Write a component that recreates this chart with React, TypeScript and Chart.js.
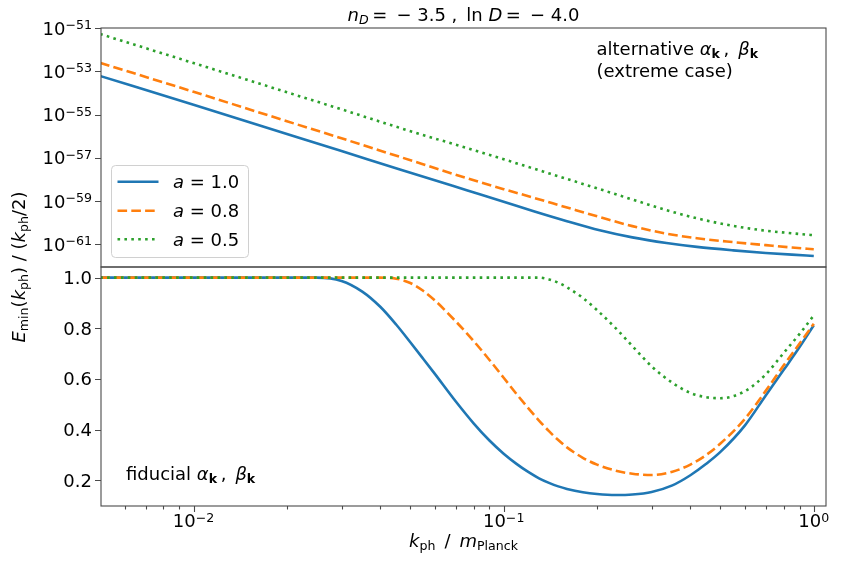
import { useEffect, useRef } from "react";
import { Chart, registerables } from "chart.js";
Chart.register(...registerables);

// top panel: log10 of E_min/(k/2), alternative alpha/beta
const kTop = [0.005, 0.01, 0.02, 0.03, 0.0463, 0.076, 0.1, 0.125, 0.16, 0.204, 0.26, 0.335, 0.42, 0.55, 0.7, 0.85, 1.0];
const topExpA10 = [-53.22, -54.55, -55.9, -56.69, -57.54, -58.5, -59.03, -59.47, -59.93, -60.35, -60.68, -60.94, -61.12, -61.28, -61.4, -61.48, -61.54];
const topExpA08 = [-52.61, -53.95, -55.31, -56.1, -56.96, -57.94, -58.45, -58.85, -59.3, -59.74, -60.16, -60.51, -60.72, -60.9, -61.04, -61.15, -61.23];
const topExpA05 = [-51.28, -52.62, -53.97, -54.76, -55.62, -56.55, -57.07, -57.5, -57.98, -58.45, -58.93, -59.42, -59.8, -60.15, -60.37, -60.49, -60.58];

// bottom panel: fiducial alpha/beta
const kBot = [0.005, 0.01, 0.02, 0.025, 0.03, 0.035, 0.04, 0.045, 0.05, 0.055, 0.06, 0.07, 0.08, 0.09, 0.1, 0.11, 0.12, 0.13, 0.14, 0.15, 0.16, 0.18, 0.2, 0.23, 0.26, 0.3, 0.35, 0.4, 0.45, 0.5, 0.6, 0.7, 0.8, 0.9, 1.0];
const botA10 = [1, 1, 1, 1, 0.987, 0.945, 0.885, 0.815, 0.745, 0.68, 0.62, 0.512, 0.425, 0.357, 0.305, 0.265, 0.233, 0.208, 0.19, 0.176, 0.166, 0.153, 0.146, 0.142, 0.144, 0.154, 0.18, 0.22, 0.265, 0.312, 0.417, 0.535, 0.636, 0.726, 0.812];
const botA08 = [1, 1, 1, 1, 1, 1, 1, 0.996, 0.979, 0.948, 0.91, 0.828, 0.75, 0.675, 0.605, 0.541, 0.485, 0.436, 0.394, 0.359, 0.33, 0.289, 0.262, 0.238, 0.226, 0.221, 0.234, 0.262, 0.3, 0.345, 0.443, 0.553, 0.654, 0.74, 0.818];
const botA05 = [1, 1, 1, 1, 1, 1, 1, 1, 1, 1, 1, 1, 1, 1, 1, 1, 1, 1, 0.993, 0.98, 0.962, 0.92, 0.872, 0.8, 0.73, 0.65, 0.585, 0.545, 0.528, 0.524, 0.552, 0.618, 0.703, 0.778, 0.851];

const aLabels = ["1.0", "0.8", "0.5"];
const xTickExps = [-2, -1, 0];
const yTopTickExps = [-51, -53, -55, -57, -59, -61];
const yBotTicks = ["0.2", "0.4", "0.6", "0.8", "1.0"];

const colors = ["#1f77b4", "#ff7f0e", "#2ca02c"];
const LW = 2.6;
const dashes = [[], [9.6, 4.2], [2.6, 4.3]];

const FONT = '"DejaVu Sans", sans-serif';
const BASE = 18;
const AX = "#4a4a4a";

type Seg = { t: string; it?: boolean; b?: boolean; s?: number; dy?: number };
const segFont = (s: Seg) => `${s.it ? "italic " : ""}${s.b ? "bold " : ""}${(s.s ?? 1) * BASE}px ${FONT}`;
const sub = (t: string, extra: Partial<Seg> = {}): Seg => ({ t, s: 0.7, dy: 3.4, ...extra });
const sup = (t: string): Seg => ({ t, s: 0.7, dy: -5.5 });

function drawRich(ctx: CanvasRenderingContext2D, segs: Seg[], x: number, y: number, align: "left" | "center" | "right") {
  let w = 0;
  for (const s of segs) { ctx.font = segFont(s); w += ctx.measureText(s.t).width; }
  let cx = align === "left" ? x : align === "center" ? x - w / 2 : x - w;
  ctx.textAlign = "left";
  ctx.textBaseline = "alphabetic";
  for (const s of segs) {
    ctx.font = segFont(s);
    ctx.fillText(s.t, cx, y + (s.dy ?? 0));
    cx += ctx.measureText(s.t).width;
  }
}

const greekK = (): Seg[] => [
  { t: "\u03b1", it: true }, sub("k", { b: true }), { t: "\u2009,\u2002" }, { t: "\u03b2", it: true }, sub("k", { b: true }),
];

const overlay = {
  id: "overlay",
  afterDraw(chart: any) {
    const ctx: CanvasRenderingContext2D = chart.ctx;
    const xs = chart.scales.x, yt = chart.scales.yTop, yb = chart.scales.yBot;
    const L = chart.chartArea.left, R = chart.chartArea.right;
    ctx.save();
    ctx.fillStyle = "#000";

    // frames
    ctx.strokeStyle = AX;
    ctx.lineWidth = 1.1;
    ctx.strokeRect(L, yt.top, R - L, yt.bottom - yt.top);
    ctx.strokeRect(L, yb.top, R - L, yb.bottom - yb.top);

    // x ticks
    const B = yb.bottom;
    ctx.beginPath();
    for (let d = -3; d <= 0; d++) {
      for (let m = 1; m <= 9; m++) {
        const v = m * Math.pow(10, d);
        if (v < xs.min || v > xs.max) continue;
        const px = Math.round(xs.getPixelForValue(v)) + 0.5;
        ctx.moveTo(px, B);
        ctx.lineTo(px, B + (m === 1 ? 6 : 3.5));
      }
    }
    // y ticks
    for (const e of yTopTickExps) {
      const py = Math.round(yt.getPixelForValue(Math.pow(10, e))) + 0.5;
      ctx.moveTo(L, py); ctx.lineTo(L - 6, py);
    }
    for (const t of yBotTicks) {
      const py = Math.round(yb.getPixelForValue(parseFloat(t))) + 0.5;
      ctx.moveTo(L, py); ctx.lineTo(L - 6, py);
    }
    ctx.stroke();

    // tick labels
    for (const e of xTickExps) {
      const px = xs.getPixelForValue(Math.pow(10, e));
      drawRich(ctx, [{ t: "10" }, sup(e < 0 ? "\u2212" + Math.abs(e) : String(e))], px, B + 21, "center");
    }
    for (const e of yTopTickExps) {
      const py = yt.getPixelForValue(Math.pow(10, e));
      drawRich(ctx, [{ t: "10" }, sup("\u2212" + Math.abs(e))], L - 9, py + 6.5, "right");
    }
    for (const t of yBotTicks) {
      const py = yb.getPixelForValue(parseFloat(t));
      drawRich(ctx, [{ t }], L - 9, py + 6.5, "right");
    }

    // title
    drawRich(ctx, [
      { t: "n", it: true }, sub("D", { it: true }), { t: "\u2009=\u2002\u2212 3.5 ,\u2002ln " }, { t: "D", it: true }, { t: "\u2009=\u2002\u2212 4.0" },
    ], (L + R) / 2, 20.5, "center");

    // x label
    drawRich(ctx, [
      { t: "k", it: true }, sub("ph"), { t: "\u2002/\u2002" }, { t: "m", it: true }, sub("Planck"),
    ], (L + R) / 2, 547, "center");

    // y label
    ctx.save();
    ctx.translate(25, (yt.top + yb.bottom) / 2);
    ctx.rotate(-Math.PI / 2);
    drawRich(ctx, [
      { t: "E", it: true }, sub("min"), { t: "(" }, { t: "k", it: true }, sub("ph"), { t: ") / (" },
      { t: "k", it: true }, sub("ph"), { t: "/2)" },
    ], 0, 0, "center");
    ctx.restore();

    // annotations
    drawRich(ctx, [{ t: "alternative " }, ...greekK()], 596.5, 55, "left");
    drawRich(ctx, [{ t: "(extreme case)" }], 596.5, 76.5, "left");
    drawRich(ctx, [{ t: "fiducial " }, ...greekK()], 126, 480, "left");

    // legend
    const lx = 111, ly = 165, lw = 137, lh = 92;
    ctx.beginPath();
    ctx.roundRect(lx + 0.5, ly + 0.5, lw, lh, 4);
    ctx.fillStyle = "rgba(255,255,255,0.8)";
    ctx.fill();
    ctx.strokeStyle = "#d0d0d0";
    ctx.lineWidth = 1;
    ctx.stroke();
    const rows = [181.7, 210.7, 239.3];
    aLabels.forEach((a, i) => {
      ctx.beginPath();
      ctx.strokeStyle = colors[i];
      ctx.lineWidth = LW;
      ctx.setLineDash(dashes[i]);
      ctx.moveTo(117.5, rows[i]);
      ctx.lineTo(158.5, rows[i]);
      ctx.stroke();
      ctx.setLineDash([]);
      ctx.fillStyle = "#000";
      drawRich(ctx, [{ t: "a", it: true }, { t: " = " + a }], 173, rows[i] + 6.5, "left");
    });
    ctx.restore();
  },
};

export default function App() {
  const canvasRef = useRef<HTMLCanvasElement>(null);
  const chartInst = useRef<Chart | null>(null);

  useEffect(() => {
    document.body.style.margin = "0";
    if (!canvasRef.current) return;
    chartInst.current?.destroy();
    const mk = (label: string, i: number, ks: number[], vals: number[], axis: string) => ({
      label,
      data: ks.map((k, j) => ({ x: k, y: vals[j] })),
      yAxisID: axis,
      borderColor: colors[i],
      borderWidth: LW,
      borderDash: dashes[i],
      borderCapStyle: "butt" as const,
      pointRadius: 0,
      fill: false,
      cubicInterpolationMode: "monotone" as const,
      order: 2 - i,
    });
    const tops = [topExpA10, topExpA08, topExpA05].map((arr) => arr.map((e) => Math.pow(10, e)));
    const bots = [botA10, botA08, botA05];
    chartInst.current = new Chart(canvasRef.current, {
      type: "line",
      data: {
        datasets: [
          ...tops.map((v, i) => mk("a = " + aLabels[i], i, kTop, v, "yTop")),
          ...bots.map((v, i) => mk("a = " + aLabels[i], i, kBot, v, "yBot")),
        ],
      },
      options: {
        responsive: false,
        animation: false,
        layout: { padding: { left: 101, right: 17, top: 28, bottom: 56 } },
        plugins: { legend: { display: false }, tooltip: { enabled: false }, title: { display: false } },
        scales: {
          x: { type: "logarithmic", min: 0.00503, max: 1.095, bounds: "data", display: false },
          yTop: { type: "logarithmic", position: "left", stack: "panels", stackWeight: 1, weight: 1, min: Math.pow(10, -62.05), max: 1e-51, bounds: "data", display: false },
          yBot: { type: "linear", position: "left", stack: "panels", stackWeight: 1, weight: 0, min: 0.0986, max: 1.042, bounds: "data", display: false },
        },
      } as any,
      plugins: [overlay],
    });
    return () => chartInst.current?.destroy();
  }, []);

  return (
    <div style={{ width: 843, height: 562, background: "#fff" }}>
      <canvas ref={canvasRef} width={843} height={562} style={{ display: "block" }} />
    </div>
  );
}
